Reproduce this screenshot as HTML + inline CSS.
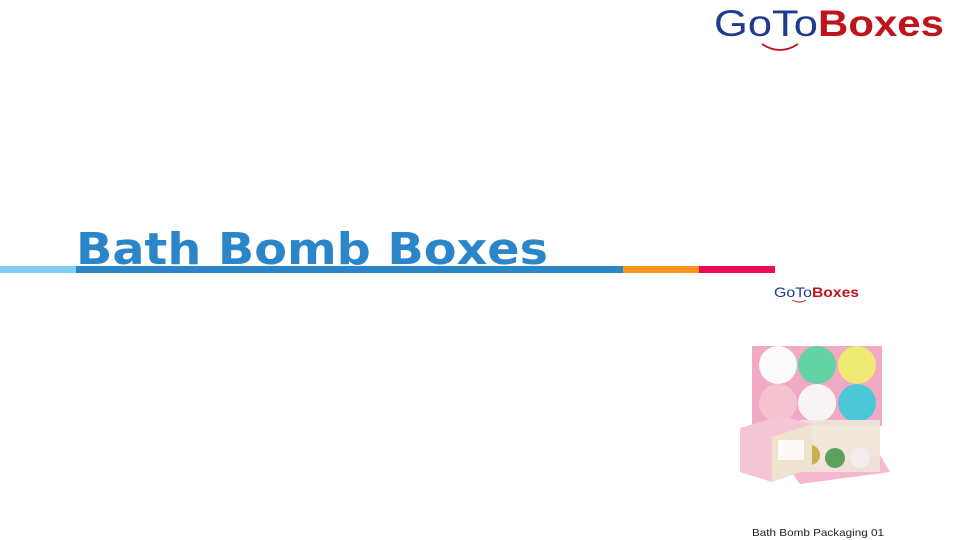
<!DOCTYPE html>
<html><head><meta charset="utf-8"><style>
html,body{margin:0;padding:0;background:#fff;}
body{width:960px;height:540px;overflow:hidden;position:relative;}
</style></head><body>
<svg width="960" height="540" viewBox="0 0 960 540" xmlns="http://www.w3.org/2000/svg" style="position:absolute;left:0;top:0">
<!-- top logo -->
<text x="714" y="36" font-family="Liberation Sans, sans-serif" font-size="37" fill="#1f3a8f" textLength="104" lengthAdjust="spacingAndGlyphs">GoTo</text>
<text x="818" y="36" font-family="Liberation Sans, sans-serif" font-weight="bold" font-size="37" fill="#c0141c" textLength="126" lengthAdjust="spacingAndGlyphs">Boxes</text>
<path d="M762 44 Q780 56 798 44" stroke="#c0141c" stroke-width="1.8" fill="none"/>
<!-- title -->
<text x="76" y="264" font-family="DejaVu Sans, sans-serif" font-weight="bold" font-size="44" fill="#2a86c8" textLength="472" lengthAdjust="spacingAndGlyphs">Bath Bomb Boxes</text>
<rect x="0" y="266" width="76" height="7" fill="#7fccf5"/>
<rect x="76" y="266" width="547" height="7" fill="#2a86c8"/>
<rect x="623" y="266" width="76" height="7" fill="#f7941d"/>
<rect x="699" y="266" width="76" height="7" fill="#ee0a50"/>
<!-- small logo -->
<text x="774" y="297" font-family="Liberation Sans, sans-serif" font-size="14" fill="#1f3a8f" textLength="38" lengthAdjust="spacingAndGlyphs">GoTo</text>
<text x="812" y="297" font-family="Liberation Sans, sans-serif" font-weight="bold" font-size="14" fill="#c0141c" textLength="47" lengthAdjust="spacingAndGlyphs">Boxes</text>
<path d="M792 300 Q799 304 806 300" stroke="#c0141c" stroke-width="1" fill="none"/>
<!-- product image -->
<rect x="752" y="346" width="130" height="80" fill="#f2a9c6"/>
<circle cx="778" cy="365" r="19" fill="#fbfbfb"/>
<circle cx="817" cy="365" r="19" fill="#64d2a3"/>
<circle cx="857" cy="365" r="19" fill="#eeea74"/>
<circle cx="778" cy="403" r="19" fill="#f5c3cf"/>
<circle cx="817" cy="403" r="19" fill="#f8f4f4"/>
<circle cx="857" cy="403" r="19" fill="#4cc7d7"/>
<path d="M790 470 L880 455 L890 472 L800 484 Z" fill="#f6b7cf"/>
<rect x="800" y="420" width="80" height="52" fill="#f0e4d8" opacity="0.9"/>
<circle cx="810" cy="455" r="10" fill="#c8b04a"/>
<circle cx="835" cy="458" r="10" fill="#5fa060"/>
<circle cx="860" cy="458" r="10" fill="#f3eded"/>
<path d="M740 428 L780 416 L812 424 L812 468 L772 482 L740 472 Z" fill="#f5c6d6"/>
<path d="M772 437 L812 424 L812 468 L772 482 Z" fill="#efe2cf"/>
<rect x="778" y="440" width="26" height="20" fill="#fff" opacity="0.8"/>
<!-- caption -->
<text x="752" y="536" font-family="Liberation Sans, sans-serif" font-size="10.5" fill="#222" textLength="132" lengthAdjust="spacingAndGlyphs">Bath Bomb Packaging 01</text>
</svg>
</body></html>
